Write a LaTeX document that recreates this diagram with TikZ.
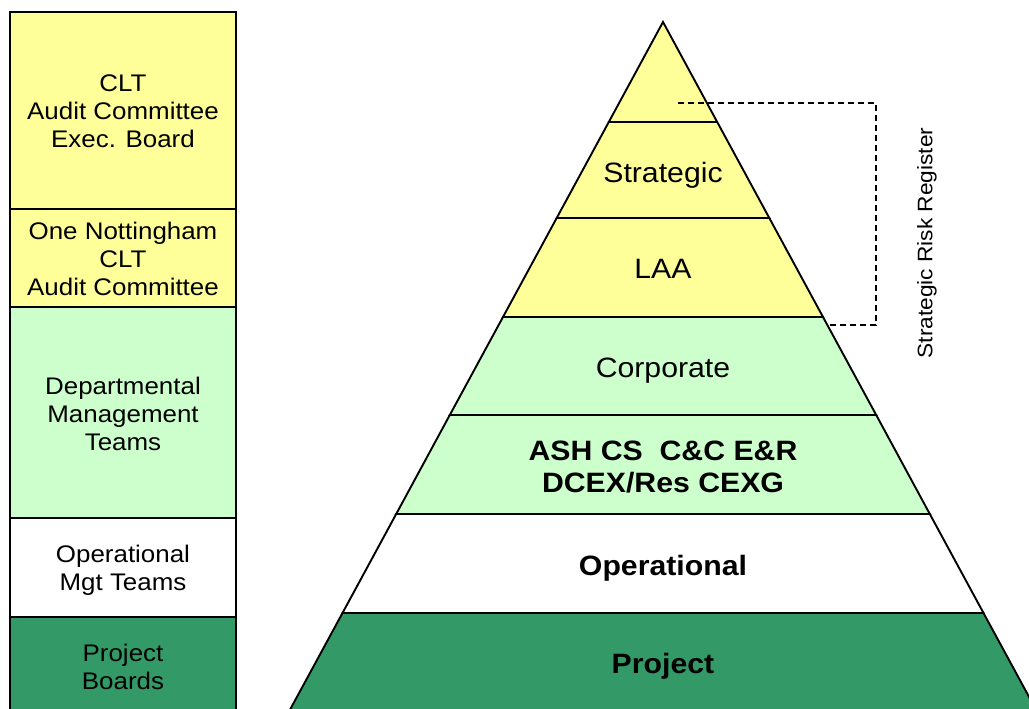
\documentclass[tikz,border=0pt]{standalone}
\usepackage{fontspec}
\setmainfont{Liberation Sans}[FakeStretch=1.08]
\definecolor{tierYellow}{HTML}{FFFF99}
\definecolor{tierLight}{HTML}{CCFFCC}
\definecolor{tierDark}{HTML}{339966}
\begin{document}
\begin{tikzpicture}[x=1pt,y=-1pt,
  colbox/.style={draw=black, line width=1.4pt},
  coltext/.style={align=center, inner sep=0pt, font=\fontsize{24}{27.8}\selectfont},
  band/.style={draw=black, line width=1.9pt, line join=miter},
  divider/.style={draw=black, line width=2.6pt},
  tiertext/.style={align=center, inner sep=0pt, text depth=0pt, font=\fontsize{28}{32}\selectfont},
  tierbold/.style={tiertext, font=\fontsize{28}{32}\selectfont\bfseries},
  bracket/.style={draw=black, line width=1.1pt, dash pattern=on 6pt off 4pt}]
\clip (0,0) rectangle (1029,709);
\fill[white] (0,0) rectangle (1029,709);

% left column of governance groups
\draw[colbox, fill=tierYellow] (10,12)  rectangle (236,209);
\draw[colbox, fill=tierYellow] (10,209) rectangle (236,307);
\draw[colbox, fill=tierLight]  (10,307) rectangle (236,518);
\draw[colbox, fill=white]      (10,518) rectangle (236,617);
\draw[colbox, fill=tierDark]   (10,617) rectangle (236,720);
\node[coltext] (gBoard)   at (123,111) {CLT\\Audit Committee\\Exec. Board};
\node[coltext] (gOneNott) at (123,259) {One Nottingham\\CLT\\Audit Committee};
\node[coltext] (gDept)    at (123,414) {Departmental\\Management\\Teams};
\node[coltext] (gOps)     at (123,570) {Operational\\Mgt Teams};
\node[coltext] (gProj)    at (123,667) {Project\\Boards};

% pyramid tiers, top to bottom
\draw[band, fill=tierYellow] (608.8,122) -- (663,22) -- (717.2,122);
\draw[line width=0.8pt] (608.8,122) -- (717.2,122);
\draw[band, fill=tierYellow] (608.8,122) -- (717.2,122) -- (769.3,218) -- (556.7,218) -- cycle;
\draw[band, fill=tierYellow] (556.7,218) -- (769.3,218) -- (823,317) -- (503,317) -- cycle;
\draw[band, fill=tierLight]  (503,317) -- (823,317) -- (876.2,415) -- (449.8,415) -- cycle;
\draw[band, fill=tierLight]  (449.8,415) -- (876.2,415) -- (929.8,514) -- (396.2,514) -- cycle;
\draw[band, fill=white]      (396.2,514) -- (929.8,514) -- (983.5,613) -- (342.5,613) -- cycle;
\draw[band, fill=tierDark]   (342.5,613) -- (983.5,613) -- (1041.6,720) -- (284.4,720) -- cycle;

% tier dividers
\draw[divider] (556.7,218) -- (769.3,218);
\draw[divider] (503,317) -- (823,317);
\draw[divider] (449.8,415) -- (876.2,415);
\draw[divider] (396.2,514) -- (929.8,514);
\draw[divider] (342.5,613) -- (983.5,613);

% tier labels
\node[tiertext] (tStrat) at (663,172) {Strategic};
\node[tiertext] (tLAA)   at (663,269) {LAA};
\node[tiertext] (tCorp)  at (663,368) {Corporate};
\node[tierbold, text depth=] (tDept) at (663,467) {ASH CS\hspace{0.6em}C\&C E\&R\\DCEX/Res CEXG};
\node[tierbold] (tOps)   at (663,565) {Operational};
\node[tierbold] (tProj)  at (663,663) {Project};

% bracket marking the strategic risk register
\coordinate (rrTop) at (678,103);
\coordinate (rrBot) at (828,325);
\draw[bracket] (rrTop) -- (876,103) |- (rrBot);
\node[rotate=90, inner sep=0pt, font=\fontsize{21}{24}\selectfont] (rrLabel) at (927,243) {Strategic Risk Register};
\end{tikzpicture}
\end{document}
